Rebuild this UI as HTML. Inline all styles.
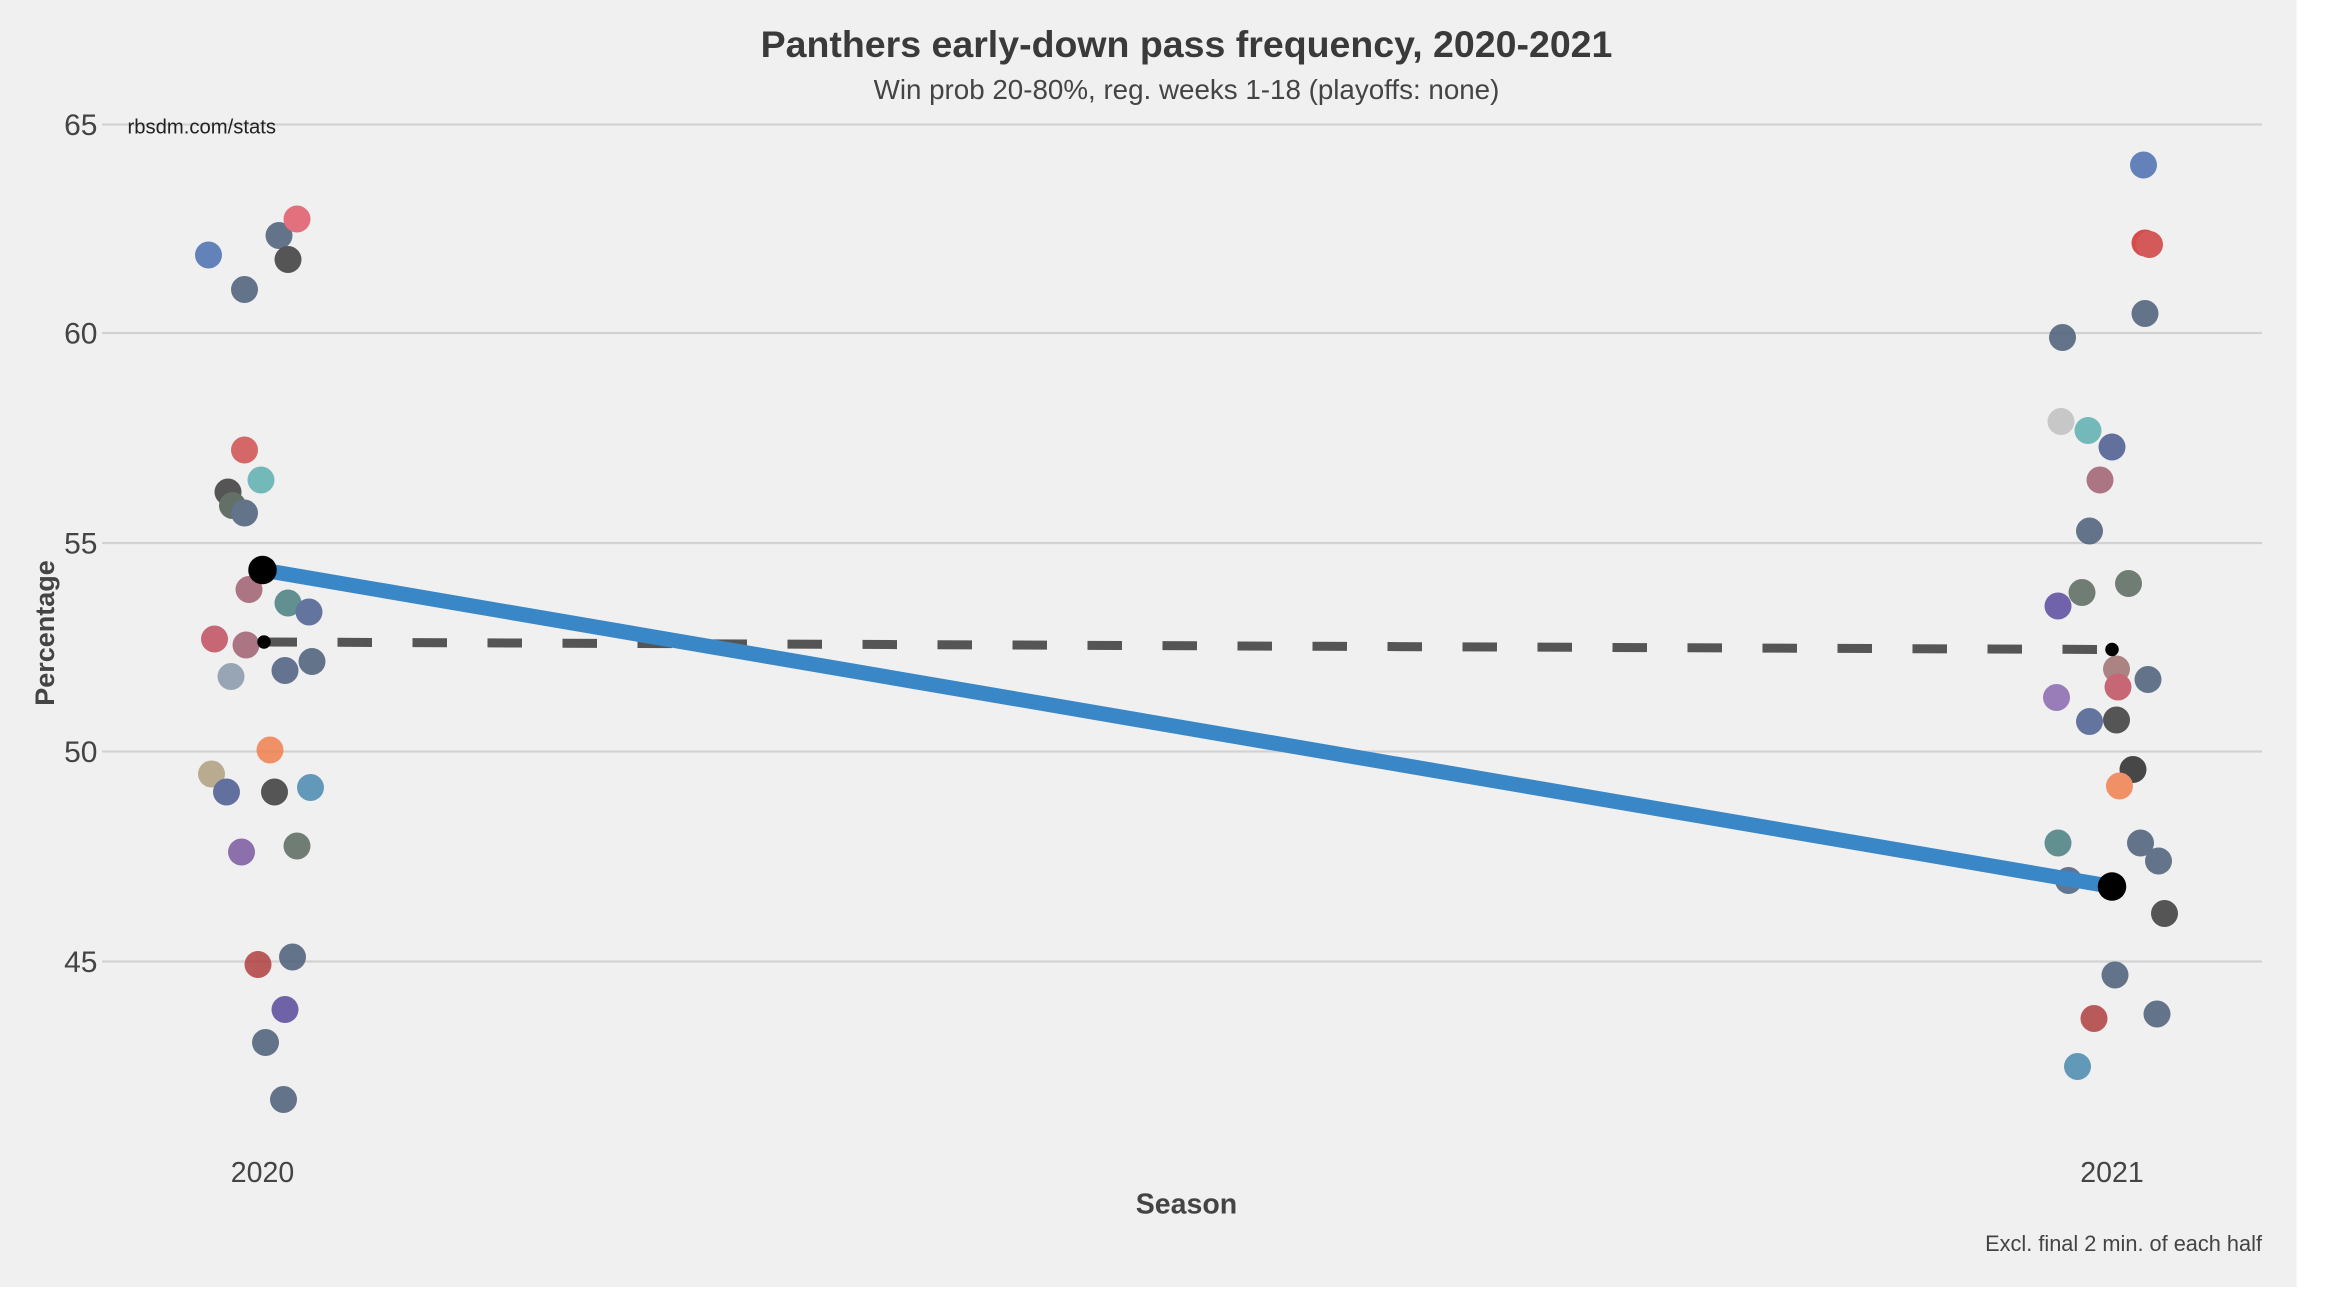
<!DOCTYPE html>
<html><head><meta charset="utf-8"><style>
html,body{margin:0;padding:0;background:#fff;}
svg{display:block;}
text{font-family:"Liberation Sans",sans-serif;}
</style></head><body>
<svg width="2348" height="1296" viewBox="0 0 1565.33 864" preserveAspectRatio="none" xmlns="http://www.w3.org/2000/svg">
<rect x="0" y="0" width="1531" height="858" fill="#f0f0f0"/>
<g stroke="#d2d2d2" stroke-width="1.5">
<line x1="68" x2="1508" y1="83" y2="83"/>
<line x1="68" x2="1508" y1="222" y2="222"/>
<line x1="68" x2="1508" y1="362" y2="362"/>
<line x1="68" x2="1508" y1="501" y2="501"/>
<line x1="68" x2="1508" y1="641" y2="641"/>
</g>
<g fill="#444" font-size="20" text-anchor="end">
<text x="65" y="90">65</text>
<text x="65" y="229">60</text>
<text x="65" y="369">55</text>
<text x="65" y="508">50</text>
<text x="65" y="648">45</text>
</g>
<text x="85" y="89" font-size="13.5" fill="#222">rbsdm.com/stats</text>
<text x="791" y="38" font-size="25" font-weight="bold" fill="#3a3a3a" text-anchor="middle">Panthers early-down pass frequency, 2020-2021</text>
<text x="791" y="66" font-size="18.5" fill="#444" text-anchor="middle">Win prob 20-80%, reg. weeks 1-18 (playoffs: none)</text>
<text transform="translate(36,422) rotate(-90)" font-size="18" font-weight="bold" fill="#444" text-anchor="middle">Percentage</text>
<text x="175" y="788" font-size="19" fill="#444" text-anchor="middle">2020</text>
<text x="1408" y="788" font-size="19" fill="#444" text-anchor="middle">2021</text>
<text x="791" y="809" font-size="19" font-weight="bold" fill="#444" text-anchor="middle">Season</text>
<text x="1508" y="834" font-size="14.5" fill="#444" text-anchor="end">Excl. final 2 min. of each half</text>
<g opacity="0.85" stroke-width="1.2">
<circle cx="139" cy="170" r="9" fill="#4a6fb0"/>
<circle cx="163" cy="193" r="9" fill="#4b5e78"/>
<circle cx="186" cy="157" r="9" fill="#4b5e78"/>
<circle cx="198" cy="146" r="9" fill="#e05a6a"/>
<circle cx="192" cy="173" r="9" fill="#3a3a3a"/>
<circle cx="163" cy="300" r="9" fill="#d05050"/>
<circle cx="174" cy="320" r="9" fill="#5fb0b0"/>
<circle cx="152" cy="328" r="9" fill="#3a3a3a"/>
<circle cx="155" cy="337" r="9" fill="#4a5a50"/>
<circle cx="163" cy="342" r="9" fill="#4b5e78"/>
<circle cx="166" cy="393" r="9" fill="#a06070"/>
<circle cx="192" cy="402" r="9" fill="#4a7f80"/>
<circle cx="206" cy="408" r="9" fill="#4b6090"/>
<circle cx="143" cy="426" r="9" fill="#c05060"/>
<circle cx="164" cy="430" r="9" fill="#a06070"/>
<circle cx="154" cy="451" r="9" fill="#8899aa"/>
<circle cx="190" cy="447" r="9" fill="#4b5e80"/>
<circle cx="208" cy="441" r="9" fill="#4b5e78"/>
<circle cx="180" cy="500" r="9" fill="#f08050"/>
<circle cx="141" cy="516" r="9" fill="#b0a080"/>
<circle cx="151" cy="528" r="9" fill="#4a5a90"/>
<circle cx="183" cy="528" r="9" fill="#3a3a3a"/>
<circle cx="207" cy="525" r="9" fill="#4a8ab0"/>
<circle cx="161" cy="568" r="9" fill="#7a5aa0"/>
<circle cx="198" cy="564" r="9" fill="#5a6a60"/>
<circle cx="172" cy="643" r="9" fill="#b04040"/>
<circle cx="195" cy="638" r="9" fill="#4b5e78"/>
<circle cx="190" cy="673" r="9" fill="#5a4a9a"/>
<circle cx="177" cy="695" r="9" fill="#4b5e78"/>
<circle cx="189" cy="733" r="9" fill="#4b5e78"/>
<circle cx="1429" cy="110" r="9" fill="#4a6fb0"/>
<circle cx="1430" cy="162" r="9" fill="#d03030"/>
<circle cx="1433" cy="163" r="9" fill="#d04040"/>
<circle cx="1430" cy="209" r="9" fill="#4b5e78"/>
<circle cx="1375" cy="225" r="9" fill="#4b5e78"/>
<circle cx="1374" cy="281" r="9" fill="#c0c0c0"/>
<circle cx="1392" cy="287" r="9" fill="#5fb0b0"/>
<circle cx="1408" cy="298" r="9" fill="#4a5a90"/>
<circle cx="1400" cy="320" r="9" fill="#a06070"/>
<circle cx="1393" cy="354" r="9" fill="#4b5e78"/>
<circle cx="1388" cy="395" r="9" fill="#5a6a60"/>
<circle cx="1419" cy="389" r="9" fill="#5a6a60"/>
<circle cx="1372" cy="404" r="9" fill="#5a4aa0"/>
<circle cx="1411" cy="446" r="9" fill="#a07070"/>
<circle cx="1412" cy="458" r="9" fill="#c05060"/>
<circle cx="1432" cy="453" r="9" fill="#4b5e78"/>
<circle cx="1371" cy="465" r="9" fill="#8a6ab0"/>
<circle cx="1393" cy="481" r="9" fill="#4b6090"/>
<circle cx="1411" cy="480" r="9" fill="#3a3a3a"/>
<circle cx="1422" cy="513" r="9" fill="#2a2a2a"/>
<circle cx="1413" cy="524" r="9" fill="#f08050"/>
<circle cx="1372" cy="562" r="9" fill="#4a7f80"/>
<circle cx="1427" cy="562" r="9" fill="#4b5e78"/>
<circle cx="1439" cy="574" r="9" fill="#4b5e78"/>
<circle cx="1379" cy="587" r="9" fill="#4b6080"/>
<circle cx="1443" cy="609" r="9" fill="#3a3a3a"/>
<circle cx="1410" cy="650" r="9" fill="#4b5e78"/>
<circle cx="1396" cy="679" r="9" fill="#b04040"/>
<circle cx="1438" cy="676" r="9" fill="#4b5e78"/>
<circle cx="1385" cy="711" r="9" fill="#4a8ab0"/>
</g>
<line x1="175" y1="428" x2="1408" y2="433" stroke="#555" stroke-width="6" stroke-dasharray="23 27"/>
<line x1="175" y1="380" x2="1408" y2="591" stroke="#3a87c8" stroke-width="10"/>
<circle cx="175" cy="380" r="9.5" fill="#000"/>
<circle cx="1408" cy="591" r="9.5" fill="#000"/>
<circle cx="176" cy="428" r="4.5" fill="#000"/>
<circle cx="1408" cy="433" r="4.5" fill="#000"/>
</svg>
</body></html>
